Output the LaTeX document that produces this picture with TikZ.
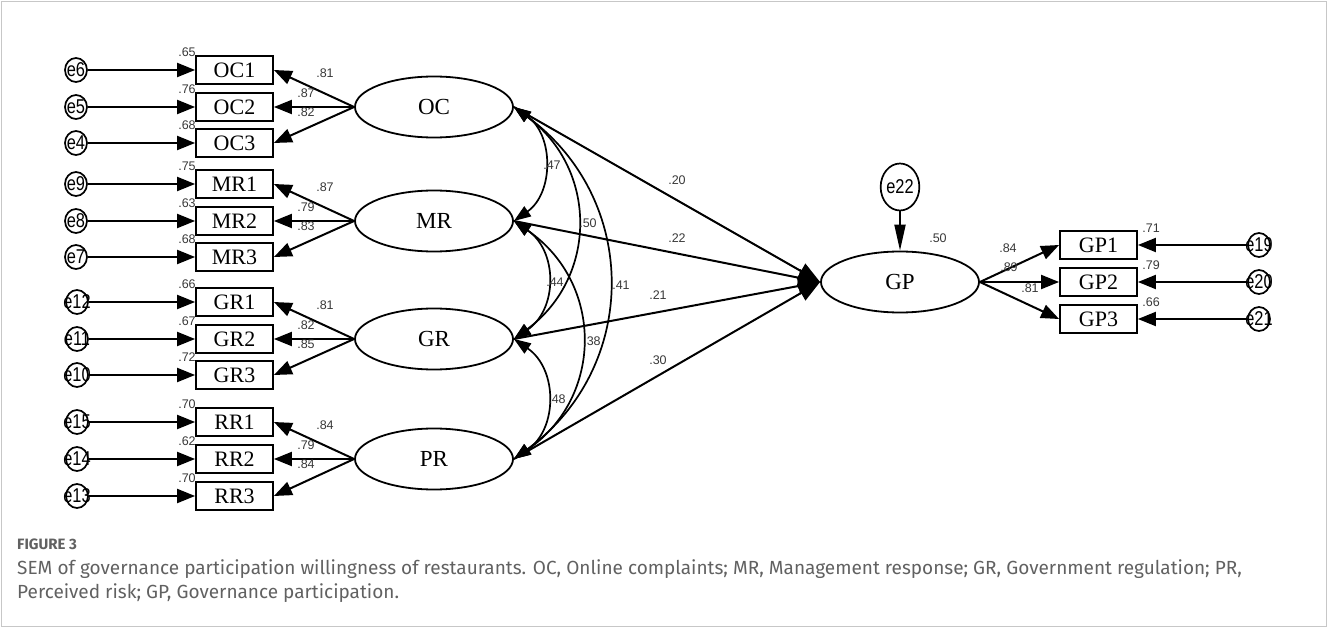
\documentclass[tikz,border=0pt]{standalone}
\usepackage{fontspec}
\setmainfont{Liberation Serif}
\newfontfamily\numfont{Liberation Sans}
\newfontfamily\errfont[FakeStretch=0.82]{Liberation Sans}
\newfontfamily\capfont{Fira Sans}
\usetikzlibrary{arrows.meta,shapes.geometric}

\tikzset{
  ind/.style={draw, line width=1.8pt, minimum width=77pt, minimum height=28pt,
    inner sep=0pt, font=\fontsize{22}{22}\selectfont},
  lat/.style={draw, ellipse, line width=1.8pt, minimum width=158pt, minimum height=61pt,
    inner sep=0pt, font=\fontsize{23}{23}\selectfont},
  err/.style={draw, ellipse, line width=1.7pt, minimum width=22pt, minimum height=24pt, inner sep=0pt},
  errtxt/.style={inner sep=0pt, font=\errfont\fontsize{20}{20}\selectfont},
  arr/.style={line width=2pt, -{Triangle[length=18pt,width=14pt]}},
  bigarr/.style={line width=2pt, -{Triangle[length=22pt,width=17pt]}},
  cov/.style={line width=1.7pt, {Triangle[length=17pt,width=12pt]}-{Triangle[length=17pt,width=12pt]}},
  coef/.style={inner sep=0pt, text=black!78, font=\numfont\fontsize{12.5}{12.5}\selectfont},
  captxt/.style={anchor=west, inner sep=0pt, text=black!62, font=\capfont\fontsize{19}{19}\selectfont},
}
% error term: fixed-size ellipse with its label laid over it
\newcommand\errterm[3]{\node[err] (#1) at (#2) {}; \node[errtxt] at (#1) {#3};}

\begin{document}
\begin{tikzpicture}[x=1pt,y=-1pt]
\useasboundingbox (0,0) rectangle (1328,628);
\draw[black!22, line width=1pt] (1.5,1.5) rectangle (1326.5,626.5);

% latent variables
\node[lat] (OC) at (434,107) {OC};
\node[lat] (MR) at (434,221) {MR};
\node[lat] (GR) at (434,339) {GR};
\node[lat] (PR) at (434,459) {PR};
\node[lat] (GP) at (900,282) {GP};

% indicators of the exogenous factors
\foreach \n/\y in {OC1/70,OC2/107,OC3/143,MR1/184,MR2/221,MR3/257,
                   GR1/302,GR2/339,GR3/375,RR1/422,RR2/459,RR3/496}
  \node[ind] (\n) at (234.5,\y) {\n};
% indicators of GP
\foreach \n/\y in {GP1/245,GP2/282,GP3/319}
  \node[ind] (\n) at (1098.5,\y) {\n};

% error terms, left side
\errterm{e6}{76,70}{e6}
\errterm{e5}{76,107}{e5}
\errterm{e4}{76,143}{e4}
\errterm{e9}{76,184}{e9}
\errterm{e8}{76,221}{e8}
\errterm{e7}{76,257}{e7}
\errterm{e12}{77,302}{e12}
\errterm{e11}{77,339}{e11}
\errterm{e10}{77,375}{e10}
\errterm{e15}{77,422}{e15}
\errterm{e14}{77,459}{e14}
\errterm{e13}{77,496}{e13}
% error terms, right side
\errterm{e19}{1259,245}{e19}
\errterm{e20}{1259,282}{e20}
\errterm{e21}{1259,319}{e21}
\node[draw, ellipse, line width=1.7pt, minimum width=34pt, minimum height=47pt, inner sep=0pt,
  font=\errfont\fontsize{20}{20}\selectfont] (e22) at (900,187) {e22};

% error arrows
\foreach \e/\b in {e6/OC1,e5/OC2,e4/OC3,e9/MR1,e8/MR2,e7/MR3,
                   e12/GR1,e11/GR2,e10/GR3,e15/RR1,e14/RR2,e13/RR3}
  \draw[arr] (\e) -- (\b.west);
\foreach \e/\b in {e19/GP1,e20/GP2,e21/GP3}
  \draw[arr] (\e) -- (\b.east);
\draw[line width=2pt, -{Triangle[length=26pt,width=11pt]}] (e22) -- (GP.north);

% loadings
\foreach \l/\b in {OC/OC1,OC/OC2,OC/OC3,MR/MR1,MR/MR2,MR/MR3,
                   GR/GR1,GR/GR2,GR/GR3,PR/RR1,PR/RR2,PR/RR3}
  \draw[arr] (\l.west) -- (\b.east);
\foreach \b in {GP1,GP2,GP3}
  \draw[arr] (GP.east) -- (\b.west);

% structural paths
\foreach \l in {OC,MR,GR,PR}
  \draw[bigarr] (\l.east) -- (GP.west);

% covariances
\draw[cov] (OC.east) .. controls +(40,28) and +(40,-28) .. (MR.east);
\draw[cov] (OC.east) .. controls +(84,62) and +(84,-62) .. (GR.east);
\draw[cov] (OC.east) .. controls +(126,92) and +(126,-92) .. (PR.east);
\draw[cov] (MR.east) .. controls +(44,30) and +(44,-30) .. (GR.east);
\draw[cov] (MR.east) .. controls +(90,62) and +(90,-62) .. (PR.east);
\draw[cov] (GR.east) .. controls +(44,30) and +(44,-30) .. (PR.east);

% coefficients: error variances
\foreach \v/\y in {.65/70,.76/107,.68/143,.75/184,.63/221,.68/257,
                   .66/302,.67/339,.72/375,.70/422,.62/459,.70/496}
  \node[coef] at (187,\y-18) {\v};
\foreach \v/\y in {.71/245,.79/282,.66/319}
  \node[coef] at (1151,\y-17) {\v};
% coefficients: loadings
\foreach \a/\b/\c/\y in {.81/.87/.82/107,.87/.79/.83/221,.81/.82/.85/339,.84/.79/.84/459}{
  \node[coef] at (325,\y-34) {\a};
  \node[coef] at (306,\y-14) {\b};
  \node[coef] at (306,\y+5) {\c};
}
\node[coef] at (1008,248) {.84};
\node[coef] at (1009,267) {.89};
\node[coef] at (1030,288) {.81};
\node[coef] at (938,238) {.50};
% coefficients: covariances
\node[coef] at (552,165) {.47};
\node[coef] at (588,223) {.50};
\node[coef] at (621,285) {.41};
\node[coef] at (555,282) {.44};
\node[coef] at (592,341) {.38};
\node[coef] at (557,399) {.48};
% coefficients: structural paths
\node[coef] at (677,180) {.20};
\node[coef] at (677,238) {.22};
\node[coef] at (658,295) {.21};
\node[coef] at (658,360) {.30};

% caption
\node[captxt, font=\capfont\bfseries\fontsize{15}{15}\selectfont] (fig) at (17,544) {FIGURE 3};
\node[captxt] (cap1) at (17,569) {SEM of governance participation willingness of restaurants. OC, Online complaints; MR, Management response; GR, Government regulation; PR,};
\node[captxt] (cap2) at (17,593) {Perceived risk; GP, Governance participation.};
\end{tikzpicture}
\end{document}
